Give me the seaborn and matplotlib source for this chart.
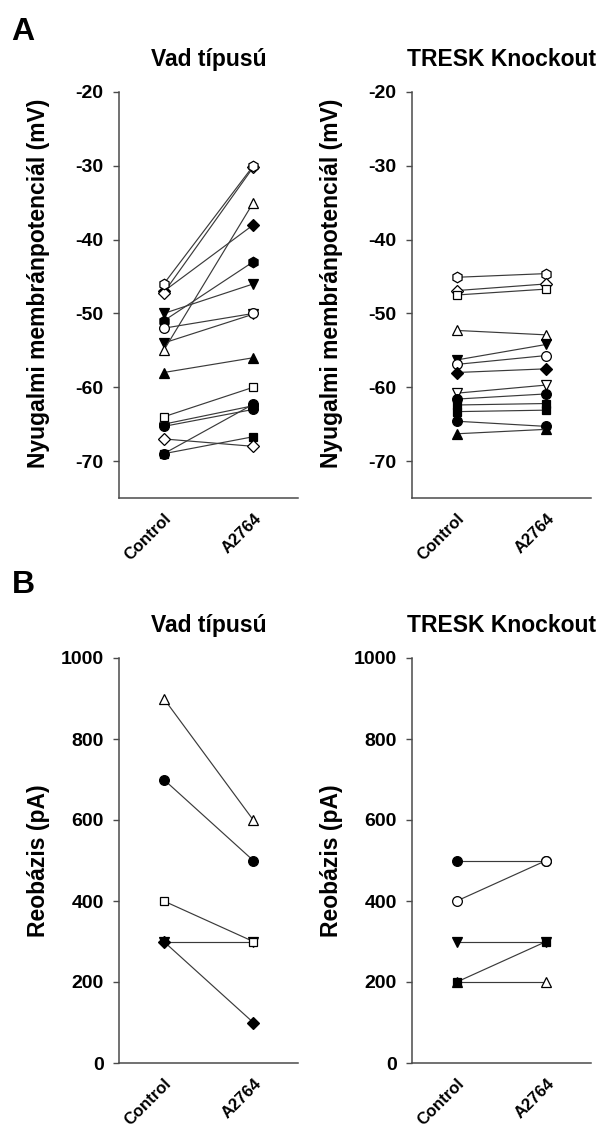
import matplotlib
matplotlib.use("Agg")
import matplotlib.pyplot as plt
from matplotlib.transforms import ScaledTranslation
import seaborn as sns
import pandas as pd

# ---------------- data ----------------
conditions = ["Control", "A2764"]

# Resting membrane potential (mV), wild type
wt_rmp_marker = ["D", "D", "h", "v", "h", "v", "o", "^", "^", "o", "s", "o", "o", "s", "D"]
wt_rmp_filled = [True, False, False, True, True, True, False, False, True, False, False, True, True, True, False]
wt_rmp_control = [-47.0, -47.2, -46.0, -50.0, -51.0, -54.0, -52.0, -55.0, -58.0, -65.0, -64.0, -65.3, -69.0, -69.0, -67.0]
wt_rmp_a2764 = [-38.0, -30.2, -30.0, -46.0, -43.0, -50.1, -50.0, -35.0, -56.0, -62.5, -60.0, -63.0, -62.3, -66.7, -68.0]

# Resting membrane potential (mV), TRESK knockout
ko_rmp_marker = ["h", "D", "s", "^", "v", "o", "D", "v", "o", "s", "s", "o", "^"]
ko_rmp_filled = [False, False, False, False, True, False, True, False, True, True, True, True, True]
ko_rmp_control = [-45.1, -46.9, -47.5, -52.3, -56.3, -56.9, -58.0, -60.8, -61.6, -62.4, -63.3, -64.6, -66.3]
ko_rmp_a2764 = [-44.6, -46.0, -46.7, -52.9, -54.2, -55.7, -57.5, -59.7, -60.9, -62.2, -63.1, -65.3, -65.7]

# Rheobase (pA), wild type
wt_rheo_marker = ["v", "^", "o", "s", "D"]
wt_rheo_filled = [True, False, True, False, True]
wt_rheo_control = [300, 900, 700, 400, 300]
wt_rheo_a2764 = [300, 600, 500, 300, 100]

# Rheobase (pA), TRESK knockout
ko_rheo_marker = ["^", "o", "o", "v", "s"]
ko_rheo_filled = [False, True, False, True, True]
ko_rheo_control = [200, 500, 400, 300, 200]
ko_rheo_a2764 = [200, 500, 500, 300, 300]

rmp_ticks = [-20, -30, -40, -50, -60, -70]
rheo_ticks = [0, 200, 400, 600, 800, 1000]

titles = ["Vad típusú", "TRESK Knockout"]
rmp_label = "Nyugalmi membránpotenciál (mV)"
rheo_label = "Reobázis (pA)"

# ---------------- style ----------------
sns.set_theme(style="white")
plt.rcParams["font.family"] = ["Liberation Sans", "DejaVu Sans"]
plt.rcParams["font.weight"] = "bold"
plt.rcParams["axes.labelweight"] = "bold"
plt.rcParams["axes.titleweight"] = "bold"
plt.rcParams["axes.unicode_minus"] = False
plt.rcParams["text.color"] = "black"
plt.rcParams["axes.labelcolor"] = "black"
plt.rcParams["xtick.labelcolor"] = "black"
plt.rcParams["ytick.labelcolor"] = "black"

SPINE = "#4a4a4a"
LINE = "#3a3a3a"
MS = {"o": 7.0, "s": 6.3, "D": 5.8, "^": 7.6, "v": 7.6, "h": 7.6}


def long_table(markers, filled, control, a2764):
    rows = []
    for i, (m, f, c, a) in enumerate(zip(markers, filled, control, a2764)):
        rows.append(dict(subject=i, marker=m, filled=f, pos=0, value=c))
        rows.append(dict(subject=i, marker=m, filled=f, pos=1, value=a))
    return pd.DataFrame(rows)


def draw_panel(ax, table, ylim, ticks, ylabel, title, label_y=0.5):
    for _, sub in table.groupby("subject", sort=True):
        m = sub["marker"].iloc[0]
        face = "black" if sub["filled"].iloc[0] else "white"
        sns.lineplot(data=sub, x="pos", y="value", ax=ax, color=LINE,
                     linewidth=0.85, marker=m, markersize=MS[m],
                     markerfacecolor=face, markeredgecolor="black",
                     markeredgewidth=0.9, estimator=None, sort=False)
    ax.set_xlim(-0.5, 1.5)
    ax.set_ylim(*ylim)
    ax.set_yticks(ticks)
    ax.set_xticks([0, 1])
    ax.set_xticklabels(conditions, rotation=45, ha="right", va="top",
                       rotation_mode="anchor")
    for lab in ax.get_xticklabels():
        lab.set_transform(lab.get_transform()
                          + ScaledTranslation(6 / 100, 0, ax.figure.dpi_scale_trans))
    for side in ("top", "right"):
        ax.spines[side].set_visible(False)
    for side in ("left", "bottom"):
        ax.spines[side].set_color(SPINE)
        ax.spines[side].set_linewidth(1.1)
    ax.tick_params(axis="y", direction="out", length=4, width=1.0,
                   color=SPINE, labelcolor="black", pad=7, labelsize=14, left=True)
    ax.tick_params(axis="x", length=0, pad=9, labelsize=12,
                   labelcolor="black", bottom=True)
    ax.set_xlabel("")
    ax.set_ylabel(ylabel, fontsize=16.5, color="black")
    ax.yaxis.set_label_coords(-0.385, label_y)
    ax.set_title(title, fontsize=16.5, pad=19, color="black")
    ax.grid(False)


W, H = 602, 1131
fig = plt.figure(figsize=(W / 100, H / 100), dpi=100)


def box(x0, x1, ytop, ybot):
    return [x0 / W, 1 - ybot / H, (x1 - x0) / W, (ybot - ytop) / H]


ax_a1 = fig.add_axes(box(119, 298, 92, 498))
ax_a2 = fig.add_axes(box(412, 591, 92, 498))
ax_b1 = fig.add_axes(box(119, 298, 658, 1063))
ax_b2 = fig.add_axes(box(412, 591, 658, 1063))

draw_panel(ax_a1, long_table(wt_rmp_marker, wt_rmp_filled, wt_rmp_control, wt_rmp_a2764),
           (-75, -20), rmp_ticks, rmp_label, titles[0], label_y=0.53)
draw_panel(ax_a2, long_table(ko_rmp_marker, ko_rmp_filled, ko_rmp_control, ko_rmp_a2764),
           (-75, -20), rmp_ticks, rmp_label, titles[1], label_y=0.53)
draw_panel(ax_b1, long_table(wt_rheo_marker, wt_rheo_filled, wt_rheo_control, wt_rheo_a2764),
           (0, 1000), rheo_ticks, rheo_label, titles[0])
draw_panel(ax_b2, long_table(ko_rheo_marker, ko_rheo_filled, ko_rheo_control, ko_rheo_a2764),
           (0, 1000), rheo_ticks, rheo_label, titles[1])

fig.text(11 / W, 1 - 40 / H, "A", fontsize=23, fontweight="bold", va="baseline", color="black")
fig.text(12 / W, 1 - 593 / H, "B", fontsize=23, fontweight="bold", va="baseline", color="black")

fig.savefig("out.png", dpi=100)
